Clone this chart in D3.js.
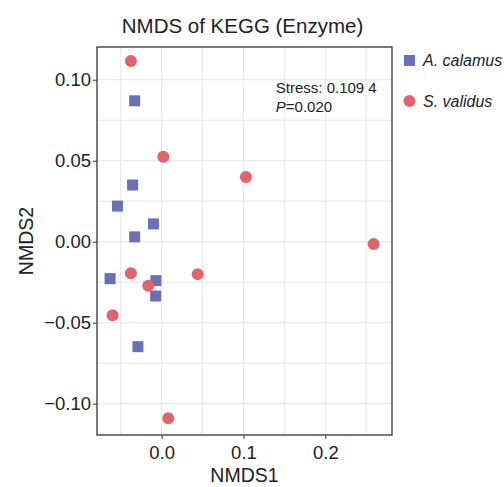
<!DOCTYPE html>
<html>
<head>
<meta charset="utf-8">
<script src="https://cdn.jsdelivr.net/npm/d3@7"></script>
<style>
body { margin: 0; background: #fff; }
text { font-family: "Liberation Sans", Arial, sans-serif; fill: #222; }
</style>
</head>
<body>
<svg id="chart" width="504" height="487"></svg>
<script>
var groups = ["A. calamus", "S. validus"];
var colors = ["#6a6fbb", "#e3636b"];

// A. calamus (squares)
var calamusX = [-0.033, -0.0355, -0.054, -0.010, -0.033, -0.063, -0.007, -0.0073, -0.029];
var calamusY = [0.087, 0.035, 0.022, 0.011, 0.003, -0.0228, -0.024, -0.0335, -0.0648];
// S. validus (circles)
var validusX = [-0.0376, 0.002, 0.103, 0.259, -0.0376, 0.044, -0.0164, -0.060, 0.0081];
var validusY = [0.1115, 0.0525, 0.040, -0.0014, -0.0195, -0.020, -0.0272, -0.0454, -0.109];

var xTicks = [0.0, 0.1, 0.2];
var yTicks = [0.10, 0.05, 0.00, -0.05, -0.10];
var xMinor = [-0.05, 0.05, 0.15, 0.25];
var yMinor = [0.075, 0.025, -0.025, -0.075];

var margin = {top: 47, right: 112, bottom: 52, left: 97},
    width = 504 - margin.left - margin.right,
    height = 487 - margin.top - margin.bottom;

var svg = d3.select("#chart");
var g = svg.append("g")
    .attr("transform", "translate(" + margin.left + "," + margin.top + ")");

var x = d3.scaleLinear().domain([-0.079, 0.2815]).range([0, width]);
var y = d3.scaleLinear().domain([-0.1193, 0.1202]).range([height, 0]);

// grid
g.selectAll(".gx").data(xTicks.concat(xMinor)).enter().append("line")
    .attr("x1", function(d) { return x(d); }).attr("x2", function(d) { return x(d); })
    .attr("y1", 0).attr("y2", height)
    .attr("stroke", "#e6e6e6").attr("stroke-width", 1);
g.selectAll(".gy").data(yTicks.concat(yMinor)).enter().append("line")
    .attr("y1", function(d) { return y(d); }).attr("y2", function(d) { return y(d); })
    .attr("x1", 0).attr("x2", width)
    .attr("stroke", "#e6e6e6").attr("stroke-width", 1);

// axes
var xAxis = g.append("g")
    .attr("transform", "translate(0," + height + ")")
    .call(d3.axisBottom(x).tickValues(xTicks).tickFormat(d3.format(".1f")).tickSize(4).tickPadding(7));
var yAxis = g.append("g")
    .call(d3.axisLeft(y).tickValues(yTicks).tickFormat(function(d) {
        return d3.format(".2f")(d).replace("-", "\u2212");
    }).tickSize(4).tickPadding(2));
[xAxis, yAxis].forEach(function(a) {
    a.select(".domain").remove();
    a.selectAll("line").attr("stroke", "#333");
    a.selectAll("text").style("font-size", "18.5px").attr("fill", "#222")
        .style("font-family", "'Liberation Sans', Arial, sans-serif");
});

// border
g.append("rect").attr("width", width).attr("height", height)
    .attr("fill", "none").attr("stroke", "#333").attr("stroke-width", 1.3);

// points
var squares = calamusX.map(function(d, i) { return [d, calamusY[i]]; });
var circles = validusX.map(function(d, i) { return [d, validusY[i]]; });
var s = 11;
g.selectAll(".sq").data(squares).enter().append("rect")
    .attr("x", function(d) { return x(d[0]) - s / 2; })
    .attr("y", function(d) { return y(d[1]) - s / 2; })
    .attr("width", s).attr("height", s)
    .attr("fill", colors[0]);
g.selectAll(".ci").data(circles).enter().append("circle")
    .attr("cx", function(d) { return x(d[0]); })
    .attr("cy", function(d) { return y(d[1]); })
    .attr("r", 6)
    .attr("fill", colors[1]);

// annotation
g.append("text").attr("x", x(0.1395)).attr("y", 93.3 - margin.top)
    .style("font-size", "15px").text("Stress: 0.109 4");
var p = g.append("text").attr("x", x(0.1395)).attr("y", 112.3 - margin.top)
    .style("font-size", "15px");
p.append("tspan").style("font-style", "italic").text("P");
p.append("tspan").text("=0.020");

// title + axis labels
svg.append("text").attr("x", margin.left + width / 2 - 2).attr("y", 33)
    .attr("text-anchor", "middle").style("font-size", "20.5px")
    .text("NMDS of KEGG (Enzyme)");
svg.append("text").attr("x", margin.left + width / 2).attr("y", 482)
    .attr("text-anchor", "middle").style("font-size", "19.5px")
    .text("NMDS1");
svg.append("text")
    .attr("transform", "translate(33," + (margin.top + height / 2) + ") rotate(-90)")
    .attr("text-anchor", "middle").style("font-size", "19.5px")
    .text("NMDS2");

// legend
var leg = svg.append("g").attr("transform", "translate(404,0)");
leg.append("rect").attr("x", 0).attr("y", 55).attr("width", 11).attr("height", 11).attr("fill", colors[0]);
leg.append("circle").attr("cx", 5.5).attr("cy", 101).attr("r", 6).attr("fill", colors[1]);
leg.selectAll(".lt").data(groups).enter().append("text")
    .attr("x", 19).attr("y", function(d, i) { return 66 + i * 41; })
    .style("font-size", "16px").style("font-style", "italic")
    .text(function(d) { return d; });
</script>
</body>
</html>
